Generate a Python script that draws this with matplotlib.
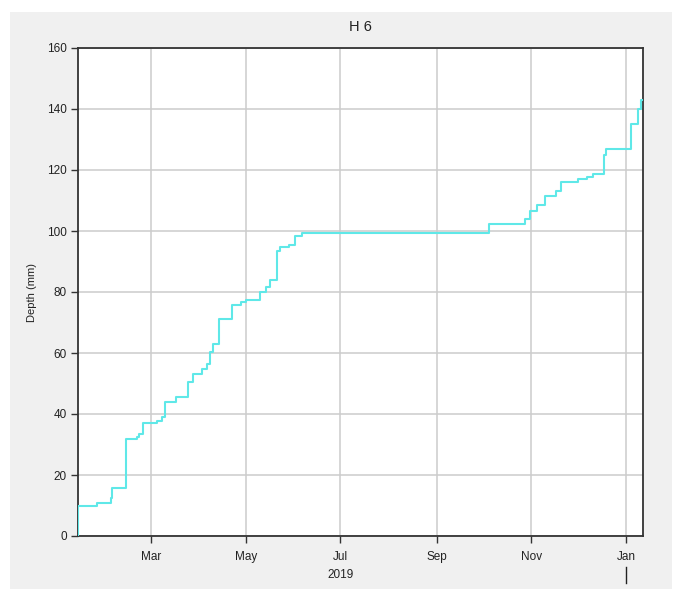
import matplotlib
matplotlib.use("Agg")
import matplotlib.pyplot as plt
import matplotlib.dates as mdates
from matplotlib.patches import Rectangle
import numpy as np
from datetime import datetime

plt.rcParams['font.family'] = ['Liberation Sans', 'DejaVu Sans']

# step dates and cumulative depth (mm)
dates = ["2019-01-13", "2019-01-13", "2019-01-25", "2019-02-03", "2019-02-04",
         "2019-02-13", "2019-02-20", "2019-02-21", "2019-02-24", "2019-03-05",
         "2019-03-08", "2019-03-10", "2019-03-17", "2019-03-25", "2019-03-28",
         "2019-04-03", "2019-04-06", "2019-04-08", "2019-04-10", "2019-04-14",
         "2019-04-22", "2019-04-28", "2019-05-01", "2019-05-10", "2019-05-14",
         "2019-05-17", "2019-05-21", "2019-05-23", "2019-05-29", "2019-06-02",
         "2019-06-06", "2019-10-05", "2019-10-28", "2019-10-31", "2019-11-05",
         "2019-11-10", "2019-11-17", "2019-11-20", "2019-12-01", "2019-12-07",
         "2019-12-11", "2019-12-18", "2019-12-19", "2020-01-04", "2020-01-09",
         "2020-01-11", "2020-01-12"]
depth = [0, 10, 10.7, 12.3, 15.6,
         31.7, 32.4, 33.3, 36.9, 37.8,
         39, 43.9, 45.5, 50.4, 53.2,
         54.8, 56.5, 60.3, 63, 71.2,
         75.6, 76.7, 77.5, 80, 81.6,
         84, 93.6, 94.7, 95.5, 98.5,
         99.3, 102.3, 104, 106.5, 108.4,
         111.6, 113, 116.2, 116.9, 117.6,
         118.8, 125, 127, 135.2, 140,
         143, 143]
title = "H 6"
ylab = "Depth (mm)"
year_label = "2019"

x = [datetime.strptime(d, "%Y-%m-%d") for d in dates]

W, H = 682, 589
fig = plt.figure(figsize=(W / 100, H / 100), dpi=100)
fig.patch.set_facecolor("white")
# gray panel
fig.patches.append(Rectangle((10 / W, 0), 662 / W, 1 - 12 / H, transform=fig.transFigure,
                             facecolor="#f0f0f0", edgecolor="none", zorder=-10))

ax = fig.add_axes([78 / W, 1 - 536 / H, (643 - 78) / W, (536 - 48) / H])
ax.set_facecolor("white")
ax.step(x, depth, where="post", color="#5fe8e8", lw=1.5, zorder=3)

ax.set_xlim(datetime(2019, 1, 13), datetime(2020, 1, 12))
ax.set_ylim(0, 160)
ax.set_yticks(np.arange(0, 161, 20))
ax.xaxis.set_major_locator(mdates.MonthLocator(bymonth=[1, 3, 5, 7, 9, 11]))
ax.xaxis.set_major_formatter(mdates.DateFormatter("%b"))
ax.grid(True, color="#cccccc", lw=1.1)
ax.set_axisbelow(True)
for s in ax.spines.values():
    s.set_color("#333333")
    s.set_linewidth(1.3)
ax.tick_params(axis="both", direction="out", length=5, width=1, color="#333333",
               labelsize=8.5, labelcolor="#222222", pad=3)
ax.tick_params(axis="x", pad=6)
ax.set_ylabel(ylab, fontsize=8, color="#222222", labelpad=7)
ax.set_title(title, fontsize=10.5, color="#222222", pad=12)

ax.text(datetime(2019, 7, 1), -0.08, year_label, transform=ax.get_xaxis_transform(),
        ha="center", va="center", fontsize=8.5, color="#222222")
ax.plot([datetime(2020, 1, 1)] * 2, [-0.0635, -0.096], transform=ax.get_xaxis_transform(),
        color="#222222", lw=1, clip_on=False)

fig.savefig("out.png", dpi=100)
